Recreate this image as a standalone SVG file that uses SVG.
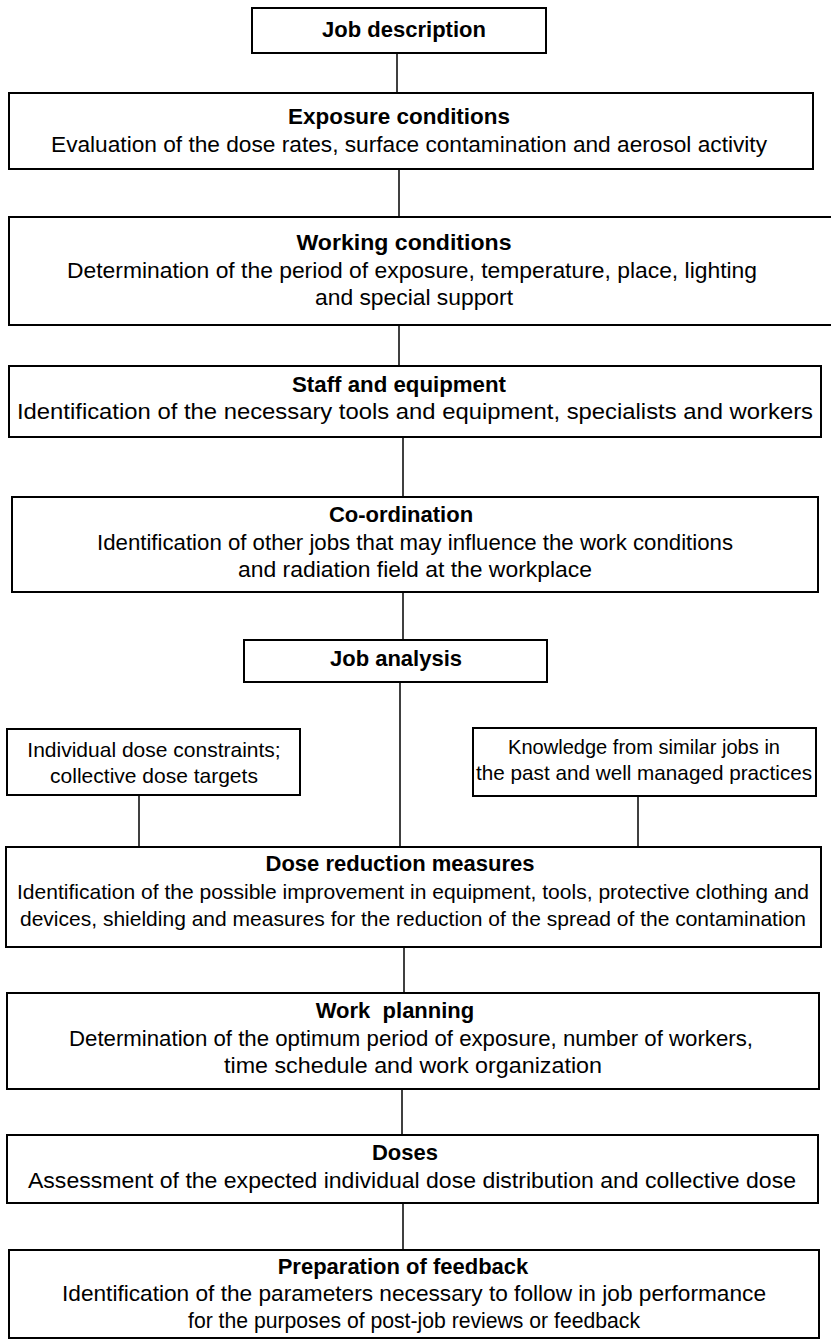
<svg xmlns="http://www.w3.org/2000/svg" width="831" height="1344" viewBox="0 0 831 1344">
<style>
.box{fill:#fff;stroke:#000;stroke-width:2}
.con line{stroke:#000;stroke-width:1.5}
text{font-family:"Liberation Sans",Arial,sans-serif;font-size:22px;fill:#000;text-anchor:middle}
.t{font-weight:bold}
.s{font-size:21px}
</style>
<rect width="831" height="1344" fill="#fff"/>
<g id="connectors" class="con">
<line x1="397" y1="53" x2="397" y2="93"/>
<line x1="399" y1="169" x2="399" y2="217"/>
<line x1="399" y1="325" x2="399" y2="366"/>
<line x1="403" y1="437" x2="403" y2="497"/>
<line x1="403" y1="592" x2="403" y2="640"/>
<line x1="400" y1="682" x2="400" y2="847"/>
<line x1="139" y1="795" x2="139" y2="847"/>
<line x1="638" y1="796" x2="638" y2="847"/>
<line x1="404" y1="947" x2="404" y2="993"/>
<line x1="402" y1="1089" x2="402" y2="1135"/>
<line x1="403" y1="1203" x2="403" y2="1250"/>
</g>
<g id="job-description">
<rect class="box" x="252" y="8" width="294" height="45"/>
<text class="t" x="404" y="37">Job description</text>
</g>
<g id="exposure-conditions">
<rect class="box" x="9" y="93" width="804" height="76"/>
<text class="t" x="399" y="124" textLength="222" lengthAdjust="spacingAndGlyphs">Exposure conditions</text>
<text x="409" y="152" textLength="716" lengthAdjust="spacingAndGlyphs">Evaluation of the dose rates, surface contamination and aerosol activity</text>
</g>
<g id="working-conditions">
<rect class="box" x="9" y="217" width="830" height="108"/>
<text class="t" x="404" y="250" textLength="215" lengthAdjust="spacingAndGlyphs">Working conditions</text>
<text x="412" y="278" textLength="690" lengthAdjust="spacingAndGlyphs">Determination of the period of exposure, temperature, place, lighting</text>
<text x="414" y="305" textLength="198" lengthAdjust="spacingAndGlyphs">and special support</text>
</g>
<g id="staff-equipment">
<rect class="box" x="9" y="366" width="812" height="71"/>
<text class="t" x="399" y="392" textLength="214" lengthAdjust="spacingAndGlyphs">Staff and equipment</text>
<text x="415" y="419" textLength="796" lengthAdjust="spacingAndGlyphs">Identification of the necessary tools and equipment, specialists and workers</text>
</g>
<g id="co-ordination">
<rect class="box" x="12" y="497" width="806" height="95"/>
<text class="t" x="401" y="522">Co-ordination</text>
<text x="415" y="550" textLength="636" lengthAdjust="spacingAndGlyphs">Identification of other jobs that may influence the work conditions</text>
<text x="415" y="577" textLength="354" lengthAdjust="spacingAndGlyphs">and radiation field at the workplace</text>
</g>
<g id="job-analysis">
<rect class="box" x="244" y="640" width="303" height="42"/>
<text class="t" x="396" y="666">Job analysis</text>
</g>
<g id="dose-constraints">
<rect class="box" x="7" y="729" width="293" height="66"/>
<text class="s" x="154" y="757">Individual dose constraints;</text>
<text class="s" x="154" y="783">collective dose targets</text>
</g>
<g id="knowledge">
<rect class="box" x="473" y="728" width="343" height="68"/>
<text class="s" x="644" y="754" textLength="272" lengthAdjust="spacingAndGlyphs">Knowledge from similar jobs in</text>
<text class="s" x="644" y="780" textLength="336" lengthAdjust="spacingAndGlyphs">the past and well managed practices</text>
</g>
<g id="dose-reduction">
<rect class="box" x="6" y="847" width="815" height="100"/>
<text class="t" x="400" y="871">Dose reduction measures</text>
<text class="s" x="413" y="899" textLength="792" lengthAdjust="spacingAndGlyphs">Identification of the possible improvement in equipment, tools, protective clothing and</text>
<text class="s" x="413" y="926" textLength="786" lengthAdjust="spacingAndGlyphs">devices, shielding and measures for the reduction of the spread of the contamination</text>
</g>
<g id="work-planning">
<rect class="box" x="7" y="993" width="812" height="96"/>
<text class="t" x="395" y="1018" xml:space="preserve">Work  planning</text>
<text x="411" y="1046" textLength="684" lengthAdjust="spacingAndGlyphs">Determination of the optimum period of exposure, number of workers,</text>
<text x="413" y="1073" textLength="378" lengthAdjust="spacingAndGlyphs">time schedule and work organization</text>
</g>
<g id="doses">
<rect class="box" x="7" y="1135" width="811" height="68"/>
<text class="t" x="405" y="1160">Doses</text>
<text x="412" y="1188" textLength="768" lengthAdjust="spacingAndGlyphs">Assessment of the expected individual dose distribution and collective dose</text>
</g>
<g id="feedback">
<rect class="box" x="9" y="1250" width="810" height="88"/>
<text class="t" x="403" y="1274">Preparation of feedback</text>
<text x="414" y="1301" textLength="704" lengthAdjust="spacingAndGlyphs">Identification of the parameters necessary to follow in job performance</text>
<text x="414" y="1328" textLength="452" lengthAdjust="spacingAndGlyphs">for the purposes of post-job reviews or feedback</text>
</g>
</svg>
